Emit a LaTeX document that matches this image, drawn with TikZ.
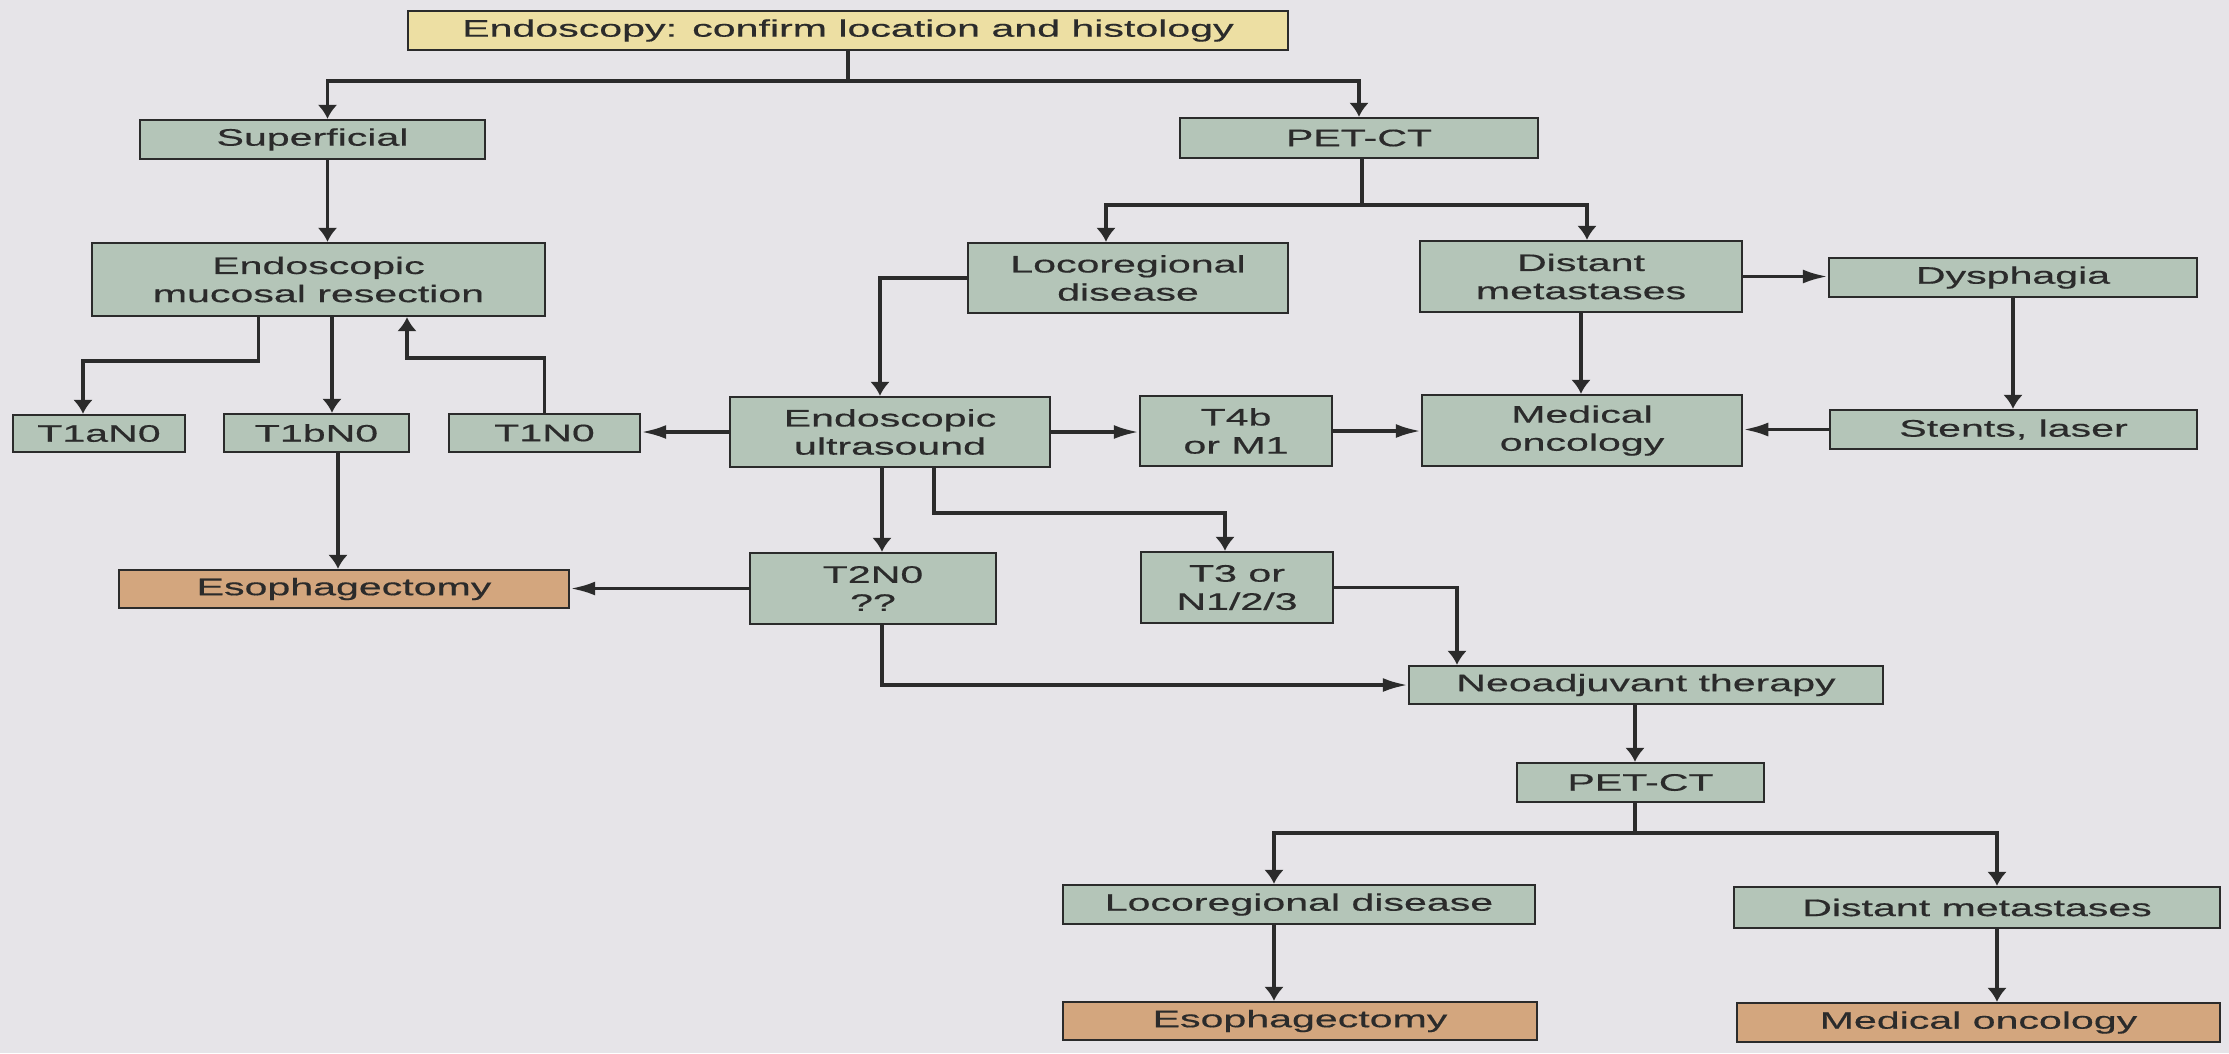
\documentclass[tikz,border=0pt]{standalone}
\usepackage{fontspec}
\newfontfamily\flowfont[FakeStretch=1.72,FakeBold=0.5]{Liberation Sans}
\usetikzlibrary{arrows.meta,positioning,calc}
\definecolor{Page}{HTML}{E6E4E8}
\definecolor{Sage}{HTML}{B4C5B8}
\definecolor{Sand}{HTML}{EDDFA3}
\definecolor{Clay}{HTML}{D3A67E}
\definecolor{Ink}{HTML}{2B2B2B}

\begin{document}
\begin{tikzpicture}
    \tikzset{box/.style={draw=Ink,fill=Sage,line width=0.7pt,inner sep=0pt,align=center,
      text=Ink,font=\flowfont\fontsize{6.8}{8.0}\selectfont},
      outcome/.style={box,fill=Clay},
      wire/.style={Ink,line width=1pt},
      link/.style={wire,-{Latex[length=1.4mm,width=2.0mm]}},
      hlink/.style={wire,-{Latex[length=2.5mm,width=1.4mm]}}}
    \fill[Page] (0,0) rectangle (22.29,-10.53);
    \useasboundingbox (0,0) rectangle (22.29,-10.53);

    % Boxes
    \node[box,fill=Sand,minimum width=8.80cm,minimum height=0.39cm] (endo) at (8.48,-0.305) {Endoscopy: confirm location and histology};
    \node[box,minimum width=3.45cm,minimum height=0.39cm] (sup) at (3.125,-1.395) {Superficial};
    \node[box,minimum width=3.58cm,minimum height=0.40cm] (pet) at (13.59,-1.38) {PET-CT};
    \node[box,minimum width=4.53cm,minimum height=0.73cm] (emr) at (3.185,-2.795) {Endoscopic\\mucosal resection};
    \node[box,minimum width=3.20cm,minimum height=0.70cm] (loco) at (11.28,-2.78) {Locoregional\\disease};
    \node[box,minimum width=3.22cm,minimum height=0.71cm] (dist) at (15.81,-2.765) {Distant\\metastases};
    \node[box,minimum width=3.68cm,minimum height=0.39cm] (dys) at (20.13,-2.775) {Dysphagia};
    \node[box,minimum width=1.72cm,minimum height=0.37cm] (t1a) at (0.99,-4.335) {T1aN0};
    \node[box,minimum width=1.85cm,minimum height=0.38cm] (t1b) at (3.165,-4.33) {T1bN0};
    \node[box,minimum width=1.91cm,minimum height=0.38cm] (t1) at (5.445,-4.33) {T1N0};
    \node[box,minimum width=3.20cm,minimum height=0.70cm] (eus) at (8.90,-4.32) {Endoscopic\\ultrasound};
    \node[box,minimum width=1.92cm,minimum height=0.70cm] (t4b) at (12.36,-4.31) {T4b\\or M1};
    \node[box,minimum width=3.20cm,minimum height=0.71cm] (medonc) at (15.82,-4.305) {Medical\\oncology};
    \node[box,minimum width=3.67cm,minimum height=0.39cm] (stents) at (20.135,-4.295) {Stents, laser};
    \node[outcome,minimum width=4.50cm,minimum height=0.38cm] (esoa) at (3.44,-5.89) {Esophagectomy};
    \node[box,minimum width=2.46cm,minimum height=0.71cm] (t2) at (8.73,-5.885) {T2N0\\??};
    \node[box,minimum width=1.92cm,minimum height=0.71cm] (t3) at (12.37,-5.875) {T3 or\\N1/2/3};
    \node[box,minimum width=4.74cm,minimum height=0.38cm] (neo) at (16.46,-6.85) {Neoadjuvant therapy};
    \node[box,minimum width=2.47cm,minimum height=0.39cm] (pet2) at (16.405,-7.825) {PET-CT};
    \node[box,minimum width=4.72cm,minimum height=0.39cm] (loco2) at (12.99,-9.045) {Locoregional disease};
    \node[box,minimum width=4.86cm,minimum height=0.41cm] (dist2) at (19.77,-9.075) {Distant metastases};
    \node[outcome,minimum width=4.74cm,minimum height=0.38cm] (esob) at (13.00,-10.21) {Esophagectomy};
    \node[outcome,minimum width=4.83cm,minimum height=0.39cm] (medb) at (19.785,-10.225) {Medical oncology};

    % Forks
    \coordinate (fork1) at ($(endo.south)+(0,-0.30)$);
    \coordinate (fork2) at ($(pet.south)+(0.03,-0.46)$);
    \coordinate (fork3) at ($(pet2.south)+(-0.055,-0.30)$);

    % Top level
    \draw[wire] (endo.south) -- (fork1);
    \draw[link] (fork1) -| ([xshift=0.15cm]sup.north);
    \draw[link] (fork1) -| (pet.north);
    \draw[link] ([xshift=0.15cm]sup.south) -- ([xshift=0.15cm]sup.south |- emr.north);

    % Superficial branch
    \draw[link] ([xshift=-0.6cm]emr.south) -- ++(0,-0.44) -| ([xshift=-0.16cm]t1a.north);
    \draw[link] ([xshift=0.135cm]emr.south) -- ([xshift=0.135cm]emr.south |- t1b.north);
    \draw[link] (t1.north) -- ++(0,0.55) -| ([xshift=0.885cm]emr.south);
    \draw[link] ([xshift=0.215cm]t1b.south) -- ([xshift=0.215cm]t1b.south |- esoa.north);

    % PET-CT branch
    \draw[wire] ([xshift=0.03cm]pet.south) -- (fork2);
    \draw[link] (fork2) -| ([xshift=-0.22cm]loco.north);
    \draw[link] (fork2) -| ([xshift=0.06cm]dist.north);
    \draw[hlink] (dist.east) -- (dist.east -| dys.west);
    \draw[link] (dist.south) -- (dist.south |- medonc.north);
    \draw[link] (dys.south) -- (dys.south |- stents.north);
    \draw[hlink] (stents.west) -- (stents.west -| medonc.east);

    % Endoscopic ultrasound
    \draw[link] (loco.west) -| ([xshift=-0.1cm]eus.north);
    \draw[hlink] (eus.west) -- (eus.west -| t1.east);
    \draw[hlink] (eus.east) -- (eus.east -| t4b.west);
    \draw[hlink] (t4b.east) -- (t4b.east -| medonc.west);
    \draw[link] ([xshift=-0.08cm]eus.south) -- ([xshift=-0.08cm]eus.south |- t2.north);
    \draw[link] ([xshift=0.44cm]eus.south) -- ++(0,-0.45) -| ([xshift=-0.12cm]t3.north);
    \draw[hlink] (t2.west) -- (t2.west -| esoa.east);

    % Neoadjuvant therapy
    \draw[hlink] ([xshift=0.09cm]t2.south) |- (neo.west);
    \draw[link] (t3.east) -| ([xshift=-1.89cm]neo.north);
    \draw[link] ([xshift=-0.11cm]neo.south) -- ([xshift=-0.11cm]neo.south |- pet2.north);
    \draw[wire] ([xshift=-0.055cm]pet2.south) -- (fork3);
    \draw[link] (fork3) -| ([xshift=-0.25cm]loco2.north);
    \draw[link] (fork3) -| ([xshift=0.20cm]dist2.north);
    \draw[link] ([xshift=-0.25cm]loco2.south) -- ([xshift=-0.25cm]loco2.south |- esob.north);
    \draw[link] ([xshift=0.20cm]dist2.south) -- ([xshift=0.20cm]dist2.south |- medb.north);
  \end{tikzpicture}
\end{document}
